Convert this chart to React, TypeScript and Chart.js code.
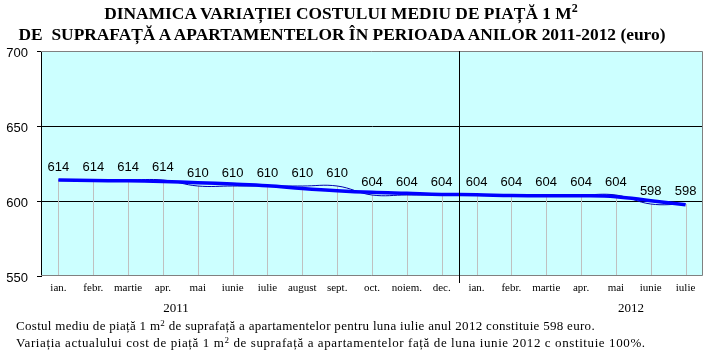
import React, { useEffect, useRef } from "react";
import { Chart, registerables } from "chart.js";

Chart.register(...registerables);

const months2011 = ["ian.", "febr.", "martie", "apr.", "mai", "iunie", "iulie", "august", "sept.", "oct.", "noiem.", "dec."];
const months2012 = ["ian.", "febr.", "martie", "apr.", "mai", "iunie", "iulie"];
const categories = [...months2011, ...months2012];
const costValues = [614, 614, 614, 614, 610, 610, 610, 610, 610, 604, 604, 604, 604, 604, 604, 604, 604, 598, 598];
const trendValues = [614, 613.6, 613.5, 613, 612.2, 611.3, 610.2, 608.4, 606.9, 605.8, 605.1, 604.4, 604.2, 603.6, 603.5, 603.5, 602.9, 600.2, 597.5];
const yTicks = [550, 600, 650, 700];
const yearLabels = ["2011", "2012"];

const framePlugin = {
  id: "frame",
  beforeDraw(chart: any) {
    const { ctx, chartArea: a } = chart;
    ctx.save();
    ctx.fillStyle = "#ccffff";
    ctx.fillRect(a.left, a.top, a.right - a.left, a.bottom - a.top);
    ctx.restore();
  },
  beforeDatasetsDraw(chart: any) {
    const { ctx, chartArea: a } = chart;
    const meta = chart.getDatasetMeta(1);
    ctx.save();
    ctx.strokeStyle = "#c0c0c0";
    ctx.lineWidth = 1;
    meta.data.forEach((p: any) => {
      const x = Math.round(p.x) + 0.5;
      ctx.beginPath();
      ctx.moveTo(x, p.y);
      ctx.lineTo(x, a.bottom);
      ctx.stroke();
    });
    ctx.strokeStyle = "#808080";
    ctx.beginPath();
    ctx.moveTo(a.left, Math.round(a.top) + 0.5);
    ctx.lineTo(Math.round(a.right) - 0.5, Math.round(a.top) + 0.5);
    ctx.lineTo(Math.round(a.right) - 0.5, Math.round(a.bottom) - 0.5);
    ctx.lineTo(a.left, Math.round(a.bottom) - 0.5);
    ctx.stroke();
    ctx.restore();
  },
  afterDatasetsDraw(chart: any) {
    const { ctx, chartArea: a } = chart;
    const meta = chart.getDatasetMeta(1);
    ctx.save();
    const xd = Math.round((meta.data[11].x + meta.data[12].x) / 2) + 0.5;
    ctx.strokeStyle = "#000";
    ctx.lineWidth = 1;
    ctx.beginPath();
    ctx.moveTo(xd, a.top);
    ctx.lineTo(xd, a.bottom + 7);
    ctx.stroke();
    ctx.fillStyle = "#000";
    ctx.font = '13px "Liberation Sans"';
    ctx.textAlign = "center";
    ctx.textBaseline = "middle";
    meta.data.forEach((p: any, i: number) => {
      ctx.fillText(String(costValues[i]), p.x, p.y - 13);
    });
    ctx.restore();
  },
};

export default function App() {
  const ref = useRef<HTMLCanvasElement>(null);
  useEffect(() => {
    if (!ref.current) return;
    const chart = new Chart(ref.current, {
      type: "line",
      data: {
        labels: categories,
        datasets: [
          { label: "trend", data: trendValues, borderColor: "#0000ff", borderWidth: 3.5, tension: 0.4, pointRadius: 0, fill: false },
          { label: "cost", data: costValues, borderColor: "#0000b0", borderWidth: 1, tension: 0.4, pointRadius: 0, fill: false },
        ],
      },
      options: {
        responsive: false,
        animation: false,
        devicePixelRatio: 1,
        layout: { padding: { top: 51, right: 6, left: 0, bottom: 0 } },
        plugins: { legend: { display: false }, tooltip: { enabled: false } },
        scales: {
          x: {
            type: "category",
            offset: true,
            grid: { display: false, drawTicks: false },
            border: { display: false },
            ticks: { font: { family: '"Liberation Serif"', size: 11 }, color: "#000", padding: 6, maxRotation: 0, autoSkip: false },
            afterFit(s: any) { s.height = 82; },
          },
          y: {
            min: 550,
            max: 700,
            afterBuildTicks(s: any) { s.ticks = yTicks.map((v) => ({ value: v })); },
            grid: {
              color: (c: any) => (c.tick && (c.tick.value === 600 || c.tick.value === 650) ? "#000" : "rgba(0,0,0,0)"),
              tickColor: "#000",
              tickLength: 4,
              lineWidth: 1,
            },
            border: { color: "#000", width: 1 },
            ticks: { font: { family: '"Liberation Sans"', size: 13 }, color: "#000", padding: 9, labelOffset: 2 },
            afterFit(s: any) { s.width = 41; },
          },
        },
      },
      plugins: [framePlugin],
    } as any);
    return () => chart.destroy();
  }, []);

  const serif = '"Liberation Serif", "Times New Roman", serif';
  return (
    <div style={{ position: "fixed", left: 0, top: 0, width: 709, height: 358, background: "#fff", fontFamily: serif, color: "#000" }}>
      <canvas ref={ref} width={709} height={358} style={{ position: "absolute", left: 0, top: 0, display: "block" }} />
      <div style={{ position: "absolute", left: 0, top: 3, width: 682, textAlign: "center", fontWeight: "bold", fontSize: 17.4, lineHeight: "20px", whiteSpace: "pre" }}>
        {"DINAMICA VARIAȚIEI COSTULUI MEDIU DE PIAȚĂ 1 M"}
        <sup style={{ fontSize: 12, verticalAlign: "7px", lineHeight: 0 }}>2</sup>
      </div>
      <div style={{ position: "absolute", left: 0, top: 24, width: 684, textAlign: "center", fontWeight: "bold", fontSize: 17.4, lineHeight: "20px", whiteSpace: "pre" }}>
        {"DE  SUPRAFAȚĂ A APARTAMENTELOR ÎN PERIOADA ANILOR 2011-2012 (euro)"}
      </div>
      <div style={{ position: "absolute", left: 146, top: 300, width: 60, textAlign: "center", fontSize: 13, lineHeight: "16px" }}>{yearLabels[0]}</div>
      <div style={{ position: "absolute", left: 601, top: 300, width: 60, textAlign: "center", fontSize: 13, lineHeight: "16px" }}>{yearLabels[1]}</div>
      <div style={{ position: "absolute", left: 16, top: 318, fontSize: 13, lineHeight: "16px", whiteSpace: "nowrap", letterSpacing: "0.3px" }}>
        Costul mediu de piață 1 m<sup style={{ fontSize: 9, verticalAlign: "4px", lineHeight: 0 }}>2</sup> de suprafață a apartamentelor pentru luna iulie anul 2012 constituie 598 euro.
      </div>
      <div style={{ position: "absolute", left: 16, top: 335, fontSize: 13, lineHeight: "16px", whiteSpace: "nowrap", letterSpacing: "0.6px" }}>
        Variația actualului cost de piață 1 m<sup style={{ fontSize: 9, verticalAlign: "4px", lineHeight: 0 }}>2</sup> de suprafață a apartamentelor față de luna iunie 2012 c onstituie 100%.
      </div>
    </div>
  );
}
